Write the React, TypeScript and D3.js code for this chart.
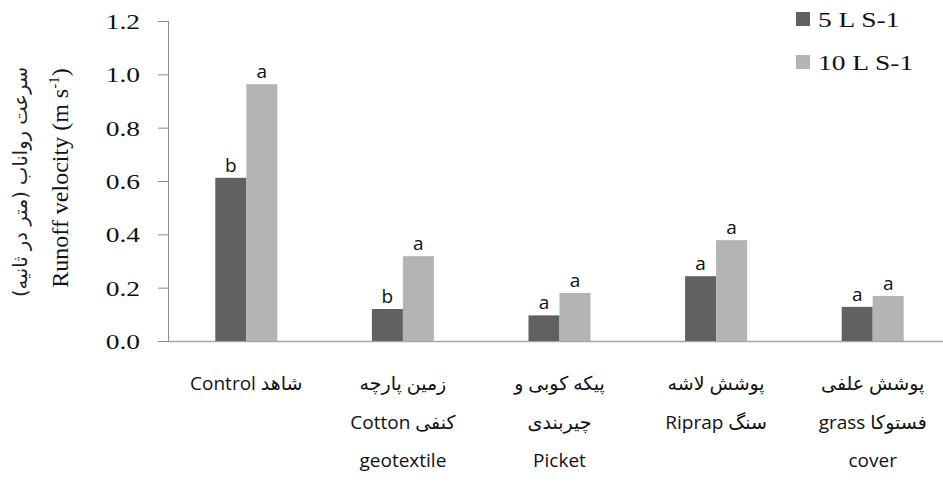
import React, { useEffect, useRef } from "react";
import * as d3 from "d3";

// treatments (x categories), label lines as drawn under each group
const categories = ["Control", "Cotton geotextile", "Picket", "Riprap", "grass cover"];
const labelLines = [
  ["شاهد Control"],
  ["زمین پارچه", "کنفی Cotton", "geotextile"],
  ["پیکه کوبی و", "چیربندی", "Picket"],
  ["پوشش لاشه", "سنگ Riprap"],
  ["پوشش علفی", "فستوکا grass", "cover"],
];

const seriesNames = ["5 L S-1", "10 L S-1"];
const flow5 = [0.612, 0.12, 0.096, 0.243, 0.128];
const flow10 = [0.963, 0.318, 0.18, 0.378, 0.169];
const letters5 = ["b", "b", "a", "a", "a"];
const letters10 = ["a", "a", "a", "a", "a"];
const yTicks = [0, 0.2, 0.4, 0.6, 0.8, 1.0, 1.2];

const colors = ["#616161", "#b4b4b4"];

export default function App() {
  const ref = useRef<SVGSVGElement>(null);

  useEffect(() => {
    const svg = d3.select(ref.current);
    svg.selectAll("*").remove();

    const left = 168;
    const right = 951;
    const top = 21;
    const bottom = 341;

    const x0 = d3
      .scaleBand()
      .domain(categories)
      .range([left, right])
      .paddingInner(0.604)
      .paddingOuter(0.302);
    const x1 = d3.scaleBand().domain(seriesNames).range([0, x0.bandwidth()]);
    const y = d3.scaleLinear().domain([0, 1.2]).range([bottom, top]);

    const serif = "Liberation Serif, Times New Roman, serif";
    const sans = "Open Sans, DejaVu Sans, sans-serif";

    // y axis
    const yAxis = d3
      .axisLeft(y)
      .tickValues(yTicks)
      .tickSize(10)
      .tickPadding(0)
      .tickFormat(d3.format(".1f"));
    const gy = svg.append("g").attr("transform", `translate(${left},0)`).call(yAxis);
    gy.select(".domain").attr("stroke", "#8c8c8c").attr("d", `M0.5,${top}V${bottom}`);
    gy.selectAll(".tick line").attr("stroke", "#8c8c8c");
    gy.selectAll(".tick text")
      .attr("font-family", serif)
      .attr("font-size", 22)
      .attr("fill", "#111")
      .attr("x", -28 / 1.25)
      .attr("dy", "0.34em")
      .attr("transform", "scale(1.25,1)");

    // x axis line
    svg
      .append("line")
      .attr("x1", left)
      .attr("x2", 943)
      .attr("y1", bottom + 0.5)
      .attr("y2", bottom + 0.5)
      .attr("stroke", "#a6a6a6")
      .attr("stroke-width", 1.5);

    const rows = categories.map((c, i) => ({
      cat: c,
      vals: [flow5[i], flow10[i]],
      letters: [letters5[i], letters10[i]],
    }));

    const groups = svg
      .selectAll("g.grp")
      .data(rows)
      .enter()
      .append("g")
      .attr("class", "grp")
      .attr("transform", (d) => `translate(${x0(d.cat)},0)`);

    groups
      .selectAll("rect")
      .data((d) => d.vals.map((v, j) => ({ v, j })))
      .enter()
      .append("rect")
      .attr("x", (d) => x1(seriesNames[d.j])!)
      .attr("width", x1.bandwidth())
      .attr("y", (d) => y(d.v))
      .attr("height", (d) => bottom - y(d.v))
      .attr("fill", (d) => colors[d.j]);

    groups
      .selectAll("text.sig")
      .data((d) => d.vals.map((v, j) => ({ v, j, s: d.letters[j] })))
      .enter()
      .append("text")
      .attr("class", "sig")
      .attr("x", (d) => x1(seriesNames[d.j])! + x1.bandwidth() / 2)
      .attr("y", (d) => y(d.v) - 6)
      .attr("text-anchor", "middle")
      .attr("font-family", sans)
      .attr("font-size", 19)
      .attr("fill", "#111")
      .text((d) => d.s);

    // category labels
    const lineY = [390, 428.5, 467];
    categories.forEach((c, i) => {
      const cx = x0(c)! + x0.bandwidth() / 2;
      labelLines[i].forEach((ln, k) => {
        svg
          .append("text")
          .attr("x", cx)
          .attr("y", lineY[k])
          .attr("text-anchor", "middle")
          .attr("direction", "rtl")
          .attr("font-family", sans)
          .attr("font-size", 19)
          .attr("fill", "#111")
          .text(ln);
      });
    });

    // y titles
    const en = svg
      .append("text")
      .attr("transform", "translate(68,178) rotate(-90)")
      .attr("text-anchor", "middle")
      .attr("font-family", serif)
      .attr("font-size", 24)
      .attr("fill", "#111");
    en.append("tspan").text("Runoff velocity (m s");
    en.append("tspan").attr("font-size", 15).attr("dy", -9).text("-1");
    en.append("tspan").attr("dy", 9).text(")");

    svg
      .append("text")
      .attr("transform", "translate(27,182) rotate(-90)")
      .attr("text-anchor", "middle")
      .attr("direction", "rtl")
      .attr("font-family", "DejaVu Sans, sans-serif")
      .attr("font-size", 19.5)
      .attr("fill", "#222")
      .text("سرعت رواناب (متر در ثانیه)");

    // legend
    const lg = svg
      .selectAll("g.lg")
      .data(seriesNames)
      .enter()
      .append("g")
      .attr("class", "lg")
      .attr("transform", (d, i) => `translate(796,${12 + i * 43})`);
    lg.append("rect").attr("width", 14).attr("height", 14).attr("fill", (d, i) => colors[i]);
    lg.append("text")
      .attr("x", 22 / 1.25)
      .attr("y", 15)
      .attr("transform", "scale(1.25,1)")
      .attr("font-family", serif)
      .attr("font-size", 22)
      .attr("fill", "#111")
      .text((d) => d);
  }, []);

  return (
    <svg
      ref={ref}
      width={943}
      height={486}
      style={{ position: "absolute", left: 0, top: 0, background: "#fff" }}
    />
  );
}
